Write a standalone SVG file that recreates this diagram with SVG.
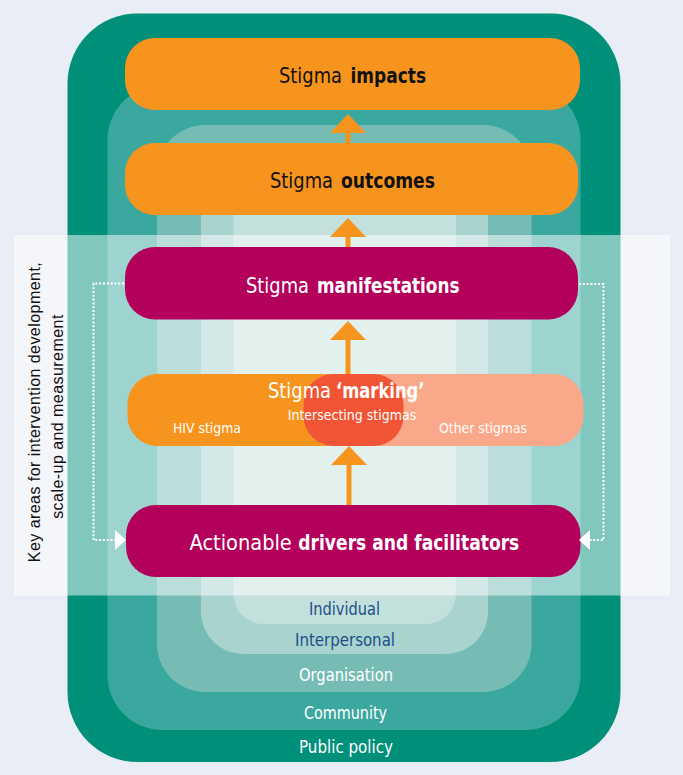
<svg xmlns="http://www.w3.org/2000/svg" width="683" height="775" viewBox="0 0 683 775">
<style>
.c{font-family:"Liberation Sans Narrow","DejaVu Sans Condensed","Liberation Sans",sans-serif;}
.big{font-size:22px;}
.sm{font-size:14px;text-anchor:middle;fill:#ffffff;}
.lay{font-size:17px;text-anchor:middle;}
.w{fill:#ffffff;}
.k{fill:#111111;}
.b{font-weight:bold;}
.arr{stroke:#f7941e;stroke-width:5;fill:none;}
.dot{stroke:#ffffff;stroke-width:2;fill:none;stroke-dasharray:2 1.8;}
</style>
<defs>
<marker id="ah" markerUnits="userSpaceOnUse" markerWidth="19" markerHeight="36" viewBox="0 0 19 36" refX="0" refY="18" orient="auto">
<path d="M0,0 L19,18 L0,36 Z" fill="#f7941e"/>
</marker>
<marker id="wh" markerUnits="userSpaceOnUse" markerWidth="11" markerHeight="20" viewBox="0 0 11 20" refX="0" refY="10" orient="auto">
<path d="M0,0 L11,10 L0,20 Z" fill="#ffffff"/>
</marker>
</defs>
<rect x="0" y="0" width="683" height="775" fill="#e9edf5"/>
<g id="layers">
<rect id="public-policy" x="67.5" y="13.5" width="553" height="748.5" rx="70" fill="#00907a"/>
<rect id="community" x="107.5" y="85" width="473" height="645" rx="55" fill="#3aa89e"/>
<rect id="organisation" x="157" y="125" width="374.5" height="567" rx="48" fill="#76bcb5"/>
<rect id="interpersonal" x="201" y="150" width="287" height="504" rx="42" fill="#a8d3ce"/>
<rect id="individual" x="233.5" y="170" width="222.5" height="454" rx="30" fill="#c4e0dc"/>
</g>
<rect id="band" x="14" y="235" width="656" height="360.5" fill="#ffffff" fill-opacity="0.5"/>
<g id="layer-labels" class="c lay">
<text x="344.5" y="615" fill="#1b4f8a" textLength="71" lengthAdjust="spacingAndGlyphs">Individual</text>
<text x="345" y="646" fill="#1b4f8a" textLength="100" lengthAdjust="spacingAndGlyphs">Interpersonal</text>
<text x="346" y="680.5" fill="#ffffff" textLength="94" lengthAdjust="spacingAndGlyphs">Organisation</text>
<text x="345.5" y="719" fill="#ffffff" textLength="83" lengthAdjust="spacingAndGlyphs">Community</text>
<text x="346" y="753" fill="#ffffff" textLength="94" lengthAdjust="spacingAndGlyphs">Public policy</text>
</g>
<g id="side-label" font-family="'Liberation Sans',Arial,sans-serif" font-size="16" fill="#111111" text-anchor="middle" letter-spacing="0.45">
<text transform="translate(39.5,412) rotate(-90)">Key areas for intervention development,</text>
<text transform="translate(63,416.5) rotate(-90)">scale-up and measurement</text>
</g>
<g id="impacts">
<rect x="125" y="38" width="455" height="72" rx="30" fill="#f7941e"/>
<text class="c big k" x="279" y="83" textLength="63" lengthAdjust="spacingAndGlyphs">Stigma</text>
<text class="c big k b" x="350.5" y="83" textLength="75.5" lengthAdjust="spacingAndGlyphs">impacts</text>
</g>
<g id="outcomes">
<rect x="125" y="143" width="453" height="72" rx="30" fill="#f7941e"/>
<text class="c big k" x="270" y="188" textLength="63" lengthAdjust="spacingAndGlyphs">Stigma</text>
<text class="c big k b" x="341" y="188" textLength="94" lengthAdjust="spacingAndGlyphs">outcomes</text>
</g>
<g id="manifestations">
<rect x="125" y="247" width="453" height="72.5" rx="30" fill="#b3005b"/>
<text class="c big w" x="246" y="293" textLength="63" lengthAdjust="spacingAndGlyphs">Stigma</text>
<text class="c big w b" x="317" y="293" textLength="142.5" lengthAdjust="spacingAndGlyphs">manifestations</text>
</g>
<g id="marking">
<rect id="hiv" x="127.5" y="374" width="276" height="72" rx="30" fill="#f7941e"/>
<rect id="other" x="303.5" y="374" width="280" height="72" rx="30" fill="#f9a889"/>
<rect id="intersecting" x="303.5" y="374" width="100" height="72" rx="30" fill="#f15535"/>
<text class="c big w" x="268" y="398" textLength="63" lengthAdjust="spacingAndGlyphs">Stigma</text>
<text class="c big w b" x="336" y="398" textLength="88.5" lengthAdjust="spacingAndGlyphs">‘marking’</text>
<text class="c sm" x="352" y="420" textLength="128.5" lengthAdjust="spacingAndGlyphs">Intersecting stigmas</text>
<text class="c sm" x="207" y="433" textLength="68" lengthAdjust="spacingAndGlyphs">HIV stigma</text>
<text class="c sm" x="483" y="433" textLength="88" lengthAdjust="spacingAndGlyphs">Other stigmas</text>
</g>
<g id="drivers">
<rect x="126" y="505" width="454.5" height="72" rx="30" fill="#b3005b"/>
<text class="c big w" x="189.5" y="550" textLength="102.3" lengthAdjust="spacingAndGlyphs">Actionable</text>
<text class="c big w b" x="298.3" y="550" textLength="221" lengthAdjust="spacingAndGlyphs">drivers and facilitators</text>
</g>
<g id="connectors">
<line class="arr" x1="348" y1="143" x2="348" y2="133" marker-end="url(#ah)"/>
<line class="arr" x1="348" y1="247" x2="348" y2="237" marker-end="url(#ah)"/>
<line class="arr" x1="348" y1="374" x2="348" y2="340" marker-end="url(#ah)"/>
<line class="arr" x1="349" y1="505" x2="349" y2="465" marker-end="url(#ah)"/>
<path class="dot" d="M124,283.5 H93.5 V540 H115" marker-end="url(#wh)"/>
<path class="dot" d="M579,284 H603.5 V540 H590" marker-end="url(#wh)"/>
</g>
</svg>
